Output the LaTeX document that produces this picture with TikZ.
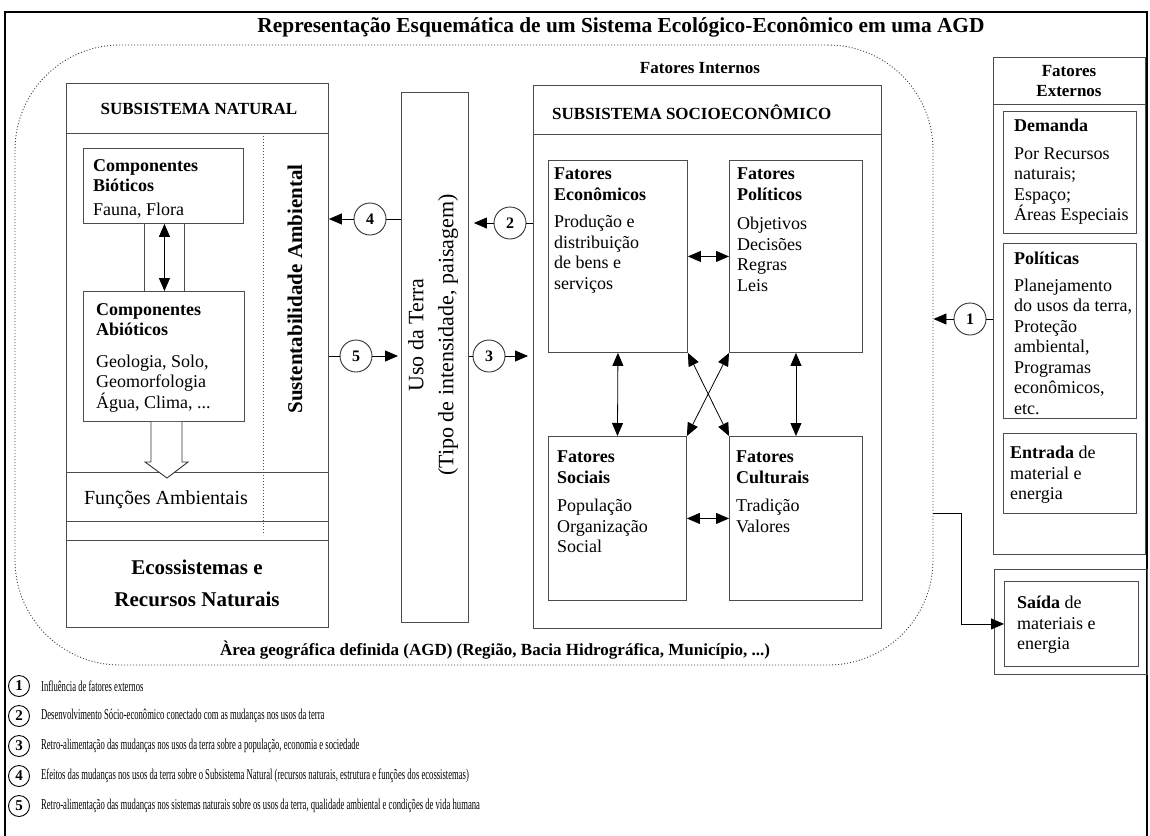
\documentclass[tikz,border=0pt]{standalone}
\usepackage{fontspec}
\setmainfont{Liberation Serif}
\usepackage{tikz}
\usetikzlibrary{arrows.meta, calc, positioning}

\tikzset{
  box/.style={draw=black!70, line width=0.9pt, anchor=north west, inner sep=0pt},
  txt/.style={font=\fontsize{18}{20.5}\selectfont, align=left, inner sep=0pt, anchor=north west},
  hdr/.style={font=\fontsize{17}{20}\selectfont\bfseries, inner sep=0pt},
  num/.style={draw=black!80, circle, line width=0.9pt, minimum size=32pt, inner sep=0pt, fill=white, font=\fontsize{16}{16}\selectfont\bfseries},
  lnum/.style={draw, circle, line width=0.9pt, minimum size=21pt, inner sep=0pt, font=\fontsize{15}{15}\selectfont\bfseries},
  tip/.style={-{Triangle[length=13pt,width=11pt]}, line width=0.8pt},
  dtip/.style={{Triangle[length=13pt,width=11pt]}-{Triangle[length=13pt,width=11pt]}, line width=0.8pt},
  sep/.style={draw=black!70, line width=0.9pt}
}

\begin{document}
\begin{tikzpicture}[x=1pt, y=-1pt]
\useasboundingbox (0,0) rectangle (1150,835);
\fill[white] (0,0) rectangle (1150,835);

% Frame and title
\draw[line width=2.5pt] (5,12) rectangle (1147,860);
\node[inner sep=0pt] (title) at (621,27)
  {\resizebox{727pt}{!}{\fontsize{20}{20}\selectfont\bfseries Representação Esquemática de um Sistema Ecológico-Econômico em uma AGD}};

% Area geografica definida
\node[draw=black!75, dash pattern=on 1pt off 2pt, line width=0.9pt, rounded corners=105pt,
      minimum width=918pt, minimum height=620pt, inner sep=0pt] (agd) at (474,355) {};
\node[hdr] (internos) at (700,68) {Fatores Internos};
\node[hdr] (agdlabel) at (495,650) {Àrea geográfica definida (AGD) (Região, Bacia Hidrográfica, Município, ...)};

% Subsistema natural
\node[box, minimum width=262pt, minimum height=544pt] (natural) at (66,83) {};
\draw[sep] (66,133) -- (328,133);
\node[hdr] (natlabel) at (199,109) {SUBSISTEMA NATURAL};
\draw[black!70, dash pattern=on 1pt off 2pt, line width=0.9pt] (263,133) -- (263,535);
\node[box, minimum width=160pt, minimum height=75pt] (biot) at (83,148) {};
\node[txt] at ($(biot.north west)+(10,11)$)
  {\textbf{Componentes}\\\textbf{Bióticos}\\[3.5pt]Fauna, Flora};
\node[box, minimum width=161pt, minimum height=130pt] (abiot) at (83,291) {};
\node[txt] at ($(abiot.north west)+(13,12)$)
  {\textbf{Componentes}\\\textbf{Abióticos}\\[11pt]Geologia, Solo,\\Geomorfologia\\Água, Clima, ...};
\node[box, minimum width=40pt, minimum height=68pt] (link) at (144,223) {};
\draw[dtip] (biot.south -| link.center) -- (abiot.north -| link.center);
\draw[sep] (66,472) -- (328,472);
\draw[sep] (66,521) -- (328,521);
\draw[sep] (66,540) -- (328,540);
\draw[sep, draw=black!80, fill=white] (abiot.south -| 151,0) -- (151,462) -- (145,462) -- (167,478)
  -- (188,462) -- (182,462) -- (abiot.south -| 182,0);
\node[font=\fontsize{20}{20}\selectfont, inner sep=0pt] (funcoes) at (166,500) {Funções Ambientais};
\node[font=\fontsize{21}{32}\selectfont\bfseries, align=center, inner sep=0pt] (ecos) at (197,583)
  {Ecossistemas e\\Recursos Naturais};
\node[font=\fontsize{21}{21}\selectfont\bfseries, rotate=90, inner sep=0pt] (sust) at (295,289)
  {Sustentabilidade Ambiental};

% Uso da terra
\node[box, minimum width=67pt, minimum height=530pt] (uso) at (401,92) {};
\node[font=\fontsize{22}{30}\selectfont, rotate=90, align=center, inner sep=0pt] (usolabel) at (433,335)
  {Uso da Terra\\(Tipo de intensidade, paisagem)};

% Subsistema socioeconomico
\node[box, minimum width=348pt, minimum height=543pt] (socio) at (533,85) {};
\draw[sep] (533,134) -- (881,134);
\node[hdr, anchor=west] (soclabel) at (552,112) {SUBSISTEMA SOCIOECONÔMICO};
\node[box, minimum width=139pt, minimum height=192pt] (econ) at (548,160) {};
\node[txt] at ($(econ.north west)+(6,8)$)
  {\textbf{Fatores}\\\textbf{Econômicos}\\[7pt]Produção e\\distribuição\\de bens e\\serviços};
\node[box, minimum width=133pt, minimum height=192pt] (pol) at (729,160) {};
\node[txt] at ($(pol.north west)+(8,8)$)
  {\textbf{Fatores}\\\textbf{Políticos}\\[9pt]Objetivos\\Decisões\\Regras\\Leis};
\node[box, minimum width=138pt, minimum height=164pt] (soc) at (548,436) {};
\node[txt] at ($(soc.north west)+(9,15)$)
  {\textbf{Fatores}\\\textbf{Sociais}\\[8pt]População\\Organização\\Social};
\node[box, minimum width=133pt, minimum height=164pt] (cult) at (729,436) {};
\node[txt] at ($(cult.north west)+(7,15)$)
  {\textbf{Fatores}\\\textbf{Culturais}\\[8pt]Tradição\\Valores};
\draw[dtip] (econ.east) -- (pol.west);
\draw[dtip] (soc.east) -- (cult.west);
\draw[dtip] (econ.south) -- (soc.north);
\draw[dtip] (pol.south) -- (cult.north);
\draw[dtip] (econ.south east) -- (cult.north west);
\draw[dtip] (pol.south west) -- (soc.north east);

% Fatores externos
\node[box, minimum width=152pt, minimum height=497pt] (ext) at (993,57) {};
\draw[sep] (993,104) -- (1145,104);
\node[hdr, align=center] (extlabel) at (1069,81) {Fatores\\Externos};
\node[box, minimum width=133pt, minimum height=122pt] (dem) at (1003,111) {};
\node[txt] at ($(dem.north west)+(11,8)$)
  {\textbf{Demanda}\\[7pt]Por Recursos\\naturais;\\Espaço;\\Áreas Especiais};
\node[box, minimum width=133pt, minimum height=175pt] (polext) at (1003,243) {};
\node[txt] at ($(polext.north west)+(11,9)$)
  {\textbf{Políticas}\\[6pt]Planejamento\\do usos da terra,\\Proteção\\ambiental,\\Programas\\econômicos,\\etc.};
\node[box, minimum width=133pt, minimum height=80pt] (entrada) at (1003,433) {};
\node[txt] at ($(entrada.north west)+(7,13)$)
  {\textbf{Entrada} de\\material e\\energia};
\node[box, minimum width=153pt, minimum height=105pt] (saidabox) at (994,569) {};
\node[box, minimum width=134pt, minimum height=85pt] (saida) at (1004,581) {};
\node[txt] at ($(saida.north west)+(13,15)$)
  {\textbf{Saída} de\\materiais e\\energia};

% Numbered links
\node[num] (c1) at (970,319) {1};
\node[num] (c2) at (510,223) {2};
\node[num] (c3) at (489,356) {3};
\node[num] (c4) at (370,219) {4};
\node[num] (c5) at (356,356) {5};
\draw[line width=0.8pt] (ext.west |- c1) -- (c1);
\draw[tip] (c1) -- (agd.east |- c1);
\draw[line width=0.8pt] (socio.west |- c2) -- (c2);
\draw[tip, shorten >=5pt] (c2) -- (uso.east |- c2);
\draw[line width=0.8pt] (uso.east |- c3) -- (c3);
\draw[tip, shorten >=5pt] (c3) -- (socio.west |- c3);
\draw[line width=0.8pt] (uso.west |- c4) -- (c4);
\draw[tip] (c4) -- (natural.east |- c4);
\draw[line width=0.8pt] (natural.east |- c5) -- (c5);
\draw[tip, shorten >=3pt] (c5) -- (uso.west |- c5);
\coordinate (out) at (agd.east |- 0,513);
\draw[tip] (out) -- (961,513) |- (saida.west);

% Legend
\foreach \n/\t [count=\i from 0] in {
  1/{Influência de fatores externos},
  2/{Desenvolvimento Sócio-econômico conectado com as mudanças nos usos da terra},
  3/{Retro-alimentação das mudanças nos usos da terra sobre a população, economia e sociedade},
  4/{Efeitos das mudanças nos usos da terra sobre o Subsistema Natural (recursos naturais, estrutura e funções dos ecossistemas)},
  5/{Retro-alimentação das mudanças nos sistemas naturais sobre os usos da terra, qualidade ambiental e condições de vida humana}}
{
  \node[lnum] (l\n) at (19,686+30*\i) {\n};
  \node[anchor=west, inner sep=0pt, font=\fontsize{15}{15}\selectfont] (lt\n) at ($(l\n.east)+(11,0)$)
    {\scalebox{0.575}[1]{\t}};
}
\end{tikzpicture}
\end{document}
